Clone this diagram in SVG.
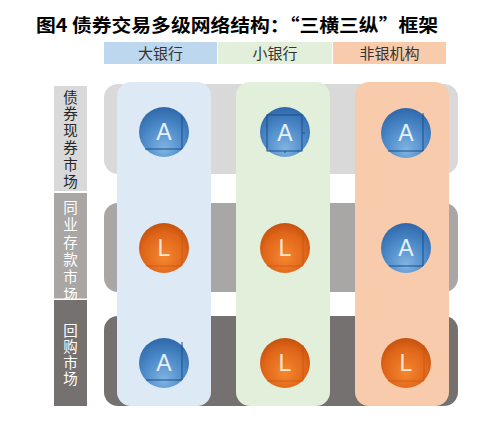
<svg xmlns="http://www.w3.org/2000/svg" width="498" height="422" viewBox="0 0 498 422">
<style>
.title{font-family:"Noto Sans CJK SC","Liberation Serif",serif;font-weight:bold;font-size:18px;fill:#000}
.hdr{font-family:"Noto Sans CJK SC","Liberation Sans",sans-serif;font-size:15px;fill:#333;text-anchor:middle}
.lab{font-family:"Liberation Sans","Noto Sans CJK SC",sans-serif;font-size:14.5px;text-anchor:middle}
.ctext{font-family:"Liberation Sans","DejaVu Sans",sans-serif;font-size:23px;text-anchor:middle}
.sq{fill:none;stroke:#1d4f86;stroke-width:1}
.sqo{fill:none;stroke:#b8480a;stroke-width:1;opacity:0.5}
</style>
<defs>
<radialGradient id="gA" cx="0.5" cy="0.7" r="0.75" fx="0.5" fy="0.85">
<stop offset="0" stop-color="#80b4e3"/>
<stop offset="0.55" stop-color="#4c89c8"/>
<stop offset="1" stop-color="#2a63a6"/>
</radialGradient>
<radialGradient id="gL" cx="0.5" cy="0.6" r="0.6" fx="0.5" fy="0.7">
<stop offset="0" stop-color="#f5872f"/>
<stop offset="0.7" stop-color="#e0661a"/>
<stop offset="1" stop-color="#c5520d"/>
</radialGradient>
</defs>
<rect width="498" height="422" fill="#fff"/>
<text class="title" x="36" y="32" textLength="402" lengthAdjust="spacingAndGlyphs">图4 债券交易多级网络结构：“三横三纵”框架</text>

<g id="header-big-bank"><rect x="104" y="42" width="113" height="22" fill="#bdd7ee"/><text class="hdr" x="160.5" y="59">大银行</text></g>
<g id="header-small-bank"><rect x="218" y="42" width="114" height="22" fill="#e2efda"/><text class="hdr" x="275" y="59">小银行</text></g>
<g id="header-nonbank"><rect x="333" y="42" width="113" height="22" fill="#f8cbad"/><text class="hdr" x="389.5" y="59">非银机构</text></g>

<g id="label-bond-spot"><rect x="54" y="86" width="33" height="105" fill="#d9d9d9"/>
<text class="lab" fill="#262626"><tspan x="70.5" y="102.5">债</tspan><tspan x="70.5" y="119.3">券</tspan><tspan x="70.5" y="136.1">现</tspan><tspan x="70.5" y="152.9">券</tspan><tspan x="70.5" y="169.7">市</tspan><tspan x="70.5" y="186.5">场</tspan></text></g>
<g id="label-interbank-deposit"><rect x="54" y="193" width="33" height="105.5" fill="#a9a6a6"/>
<text class="lab" fill="#fff"><tspan x="70.5" y="213">同</tspan><tspan x="70.5" y="230.3">业</tspan><tspan x="70.5" y="247.6">存</tspan><tspan x="70.5" y="264.9">款</tspan><tspan x="70.5" y="282.2">市</tspan><tspan x="70.5" y="299.5">场</tspan></text></g>
<g id="label-repo"><rect x="54" y="300" width="33" height="106" fill="#767171"/>
<text class="lab" fill="#fff"><tspan x="70.5" y="335.5">回</tspan><tspan x="70.5" y="351.5">购</tspan><tspan x="70.5" y="367.5">市</tspan><tspan x="70.5" y="383.5">场</tspan></text></g>

<g id="band-bond-spot"><rect x="104" y="84" width="354" height="90" rx="14" fill="#d9d9d9"/></g>
<g id="band-interbank-deposit"><rect x="104" y="203" width="354" height="89" rx="14" fill="#a9a6a6"/></g>
<g id="band-repo"><rect x="104" y="316" width="354" height="90" rx="14" fill="#767171"/></g>

<g id="col-big-bank"><rect x="117" y="82" width="94" height="324" rx="14" fill="#ddeaf6"/></g>
<g id="col-small-bank"><rect x="236" y="82" width="94" height="324" rx="14" fill="#e2efda"/></g>
<g id="col-nonbank"><rect x="355" y="82" width="94" height="324" rx="14" fill="#f8cbad"/></g>

<g id="n-big-bond-A"><circle cx="164" cy="132" r="25" fill="url(#gA)"/><path class="sq" d="M182 116V149H145"/><text class="ctext" x="164" y="140" fill="#e6f0fa">A</text></g>
<g id="n-small-bond-A"><circle cx="285" cy="132" r="25" fill="url(#gA)"/><rect class="sq" x="267" y="115" width="35" height="36"/><path class="sq" d="M302 133h3M285 151v2"/><text class="ctext" x="285" y="141" fill="#e6f0fa">A</text></g>
<g id="n-non-bond-A"><circle cx="406" cy="133" r="25" fill="url(#gA)"/><path class="sq" d="M423 113V151H388"/><text class="ctext" x="406" y="141" fill="#e6f0fa">A</text></g>

<g id="n-big-dep-L"><circle cx="164" cy="248" r="25" fill="url(#gL)"/><path class="sqo" d="M182 230V266H146"/><text class="ctext" x="164" y="256" fill="#fde7d6">L</text></g>
<g id="n-small-dep-L"><circle cx="285" cy="248" r="25" fill="url(#gL)"/><path class="sqo" d="M303 230V266H267"/><text class="ctext" x="285" y="256" fill="#fde7d6">L</text></g>
<g id="n-non-dep-A"><circle cx="406" cy="248" r="25" fill="url(#gA)"/><path class="sq" d="M423 231V266H389"/><text class="ctext" x="406" y="256" fill="#e6f0fa">A</text></g>

<g id="n-big-repo-A"><circle cx="164" cy="363" r="25" fill="url(#gA)"/><path class="sq" d="M182 342V380H146"/><text class="ctext" x="164" y="371" fill="#e6f0fa">A</text></g>
<g id="n-small-repo-L"><circle cx="285" cy="363" r="25" fill="url(#gL)"/><path class="sqo" d="M303 345V381H267"/><text class="ctext" x="285" y="371" fill="#fde7d6">L</text></g>
<g id="n-non-repo-L"><circle cx="406" cy="363" r="25" fill="url(#gL)"/><path class="sqo" d="M424 345V381H388"/><text class="ctext" x="406" y="371" fill="#fde7d6">L</text></g>

<g id="connectors"></g>
</svg>
